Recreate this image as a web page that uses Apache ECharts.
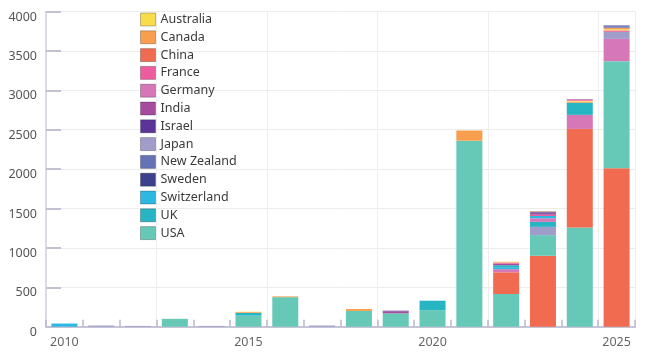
<!DOCTYPE html>
<html>
<head>
<meta charset="utf-8">
<script src="https://cdn.jsdelivr.net/npm/echarts@6/dist/echarts.min.js"></script>
<style>
  html, body { margin: 0; padding: 0; background: #fff; }
  #chart { width: 646px; height: 354px; }
</style>
</head>
<body>
<div id="chart"></div>
<script>
var years = ["2010", "2011", "2012", "2013", "2014", "2015", "2016", "2017",
  "2018", "2019", "2020", "2021", "2022", "2023", "2024", "2025"]

// values per country, one per year
var australia   = [0, 0, 0, 0, 0, 5, 0, 0, 0, 0, 0, 0, 10, 0, 10, 15]
var canada      = [0, 0, 0, 0, 0, 10, 10, 0, 25, 0, 0, 130, 0, 5, 15, 15]
var china       = [0, 0, 0, 0, 0, 0, 0, 0, 0, 0, 0, 0, 275, 900, 1250, 2010]
var france      = [0, 0, 0, 0, 0, 0, 0, 0, 0, 0, 0, 0, 15, 20, 10, 18]
var germany     = [0, 0, 0, 0, 0, 0, 0, 0, 0, 0, 0, 0, 40, 45, 178, 282]
var india       = [0, 0, 0, 0, 0, 0, 0, 0, 0, 25, 0, 0, 20, 10, 8, 10]
var israel      = [0, 0, 0, 0, 0, 0, 0, 0, 0, 8, 0, 0, 0, 15, 0, 8]
var japan       = [0, 15, 10, 0, 10, 0, 0, 15, 0, 0, 0, 0, 0, 105, 0, 90]
var newZealand  = [0, 0, 0, 0, 0, 0, 0, 0, 0, 0, 0, 0, 0, 0, 0, 0]
var sweden      = [0, 0, 0, 0, 0, 0, 0, 0, 0, 0, 0, 0, 0, 10, 0, 5]
var switzerland = [40, 0, 0, 0, 0, 0, 0, 0, 0, 0, 0, 0, 25, 30, 0, 0]
var uk          = [0, 0, 0, 0, 0, 35, 0, 0, 0, 0, 120, 0, 25, 63, 155, 10]
var usa         = [0, 0, 0, 100, 0, 140, 375, 0, 200, 170, 210, 2360, 415, 262, 1260, 1360]

var countries = ["Australia", "Canada", "China", "France", "Germany", "India", "Israel",
  "Japan", "New Zealand", "Sweden", "Switzerland", "UK", "USA"]
var countryData = [australia, canada, china, france, germany, india, israel,
  japan, newZealand, sweden, switzerland, uk, usa]
var colors = ["#f9dc4c", "#f89f4f", "#f16b51", "#ee5ca0", "#d677b8", "#a64c9e", "#5a3597",
  "#a09dcb", "#6572b6", "#3d418b", "#2db8e2", "#27b5c3", "#66c8b6"]

// each bar is stacked biggest first, so build one series per rank
var perYear = years.map(function (y, j) {
  var list = []
  countries.forEach(function (c, i) {
    if (countryData[i][j] > 0) list.push({ value: countryData[i][j], color: colors[i] })
  })
  list.sort(function (a, b) { return b.value - a.value })
  return list
})
var maxRank = Math.max.apply(null, perYear.map(function (l) { return l.length }))

var series = []
// empty series, only for the legend
countries.forEach(function (c, i) {
  series.push({ name: c, type: "bar", stack: "all", barWidth: 26, data: [], itemStyle: { color: colors[i] } })
})
for (var r = 0; r < maxRank; r++) {
  series.push({
    name: "rank" + r,
    type: "bar",
    stack: "all",
    barWidth: 26,
    data: perYear.map(function (l) {
      var it = l[r]
      return it ? { value: it.value, itemStyle: { color: it.color } } : "-"
    })
  })
}

var myChart = echarts.init(document.getElementById("chart"))
var font = "Noto Sans"
var option = {
  backgroundColor: "#ffffff",
  animation: false,
  textStyle: { fontFamily: font },
  grid: { left: 46, right: 11, top: 11.5, bottom: 27.3 },
  legend: {
    data: countries,
    orient: "vertical",
    left: 135,
    top: 7.5,
    itemWidth: 15,
    itemHeight: 13,
    itemGap: 3.8,
    icon: "rect",
    itemStyle: { borderColor: "rgba(0,0,0,0.25)", borderWidth: 1 },
    textStyle: { color: "#3a3a3a", fontSize: 12.5, fontFamily: font }
  },
  xAxis: {
    type: "category",
    data: years,
    axisLine: { lineStyle: { color: "#c6c5d8", width: 2 } },
    axisTick: { show: true, inside: true, length: 7, interval: 0, lineStyle: { color: "#b9b8cc", width: 1.5 } },
    axisLabel: { interval: 4, color: "#666", fontSize: 12.5, margin: 9, fontFamily: font },
    splitLine: {
      show: true,
      interval: function (index) { return index > 0 && index % 3 === 0 },
      lineStyle: { color: "#eeeeee", width: 1 }
    }
  },
  yAxis: {
    type: "value",
    min: 0,
    max: 4000,
    interval: 500,
    axisLine: { show: true, lineStyle: { color: "#cfcedf", width: 1.5 } },
    axisTick: { show: true, inside: true, length: 15, lineStyle: { color: "#c2c1d4", width: 2 } },
    axisLabel: {
      color: "#555", fontSize: 12.5, margin: 9, fontFamily: font,
      verticalAlign: "top", lineHeight: 11,
      formatter: function (v) { return String(v) }
    },
    splitLine: { lineStyle: { color: "#ececec", width: 1 } }
  },
  series: series
}
myChart.setOption(option)
</script>
</body>
</html>
